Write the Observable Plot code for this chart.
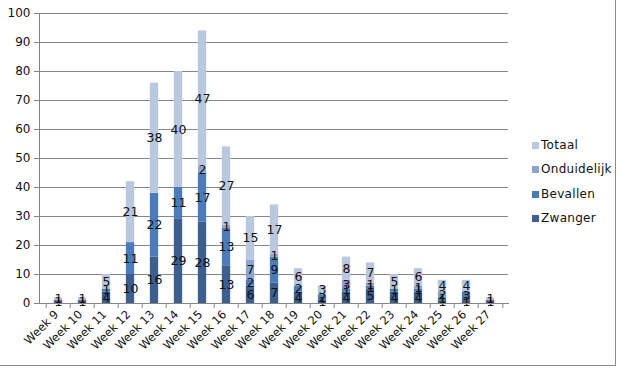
<!DOCTYPE html>
<html>
<head>
<meta charset="utf-8">
<script src="https://cdn.jsdelivr.net/npm/d3@7"></script>
<script src="https://cdn.jsdelivr.net/npm/@observablehq/plot@0.6"></script>
<style>
  html, body { margin: 0; padding: 0; background: #fff; overflow: hidden; }
  #wrap { position: relative; width: 619px; height: 368px; font-family: "DejaVu Sans", Verdana, sans-serif; }
  #frame { position: absolute; left: -5px; top: -5px; width: 621px; height: 371px; box-sizing: border-box; border: 1px solid #8a8a8a; }
  #chart { position: absolute; left: 0; top: 0; }
  #legend { position: absolute; left: 532px; top: 139px; }
  .item { position: relative; height: 24.4px; font-size: 12px; color: #111; line-height: 13px; letter-spacing: 0.3px; }
  .sw { display: inline-block; width: 7px; height: 7px; margin-right: 2px; vertical-align: 0px; }
</style>
</head>
<body>
<div id="wrap"><div id="frame"></div><div id="chart"></div><div id="legend"></div></div>
<script>
const weeks = ["Week 9","Week 10","Week 11","Week 12","Week 13","Week 14","Week 15","Week 16","Week 17","Week 18","Week 19","Week 20","Week 21","Week 22","Week 23","Week 24","Week 25","Week 26","Week 27"];
const series = ["Zwanger","Bevallen","Onduidelijk","Totaal"];
const zwanger     = [1, 1, 4, 10, 16, 29, 28, 13, 6, 7, 4, 1, 4, 5, 4, 4, 1, 1, 1];
const bevallen    = [0, 0, 1, 11, 22, 11, 17, 13, 2, 9, 2, 2, 1, 1, 1, 1, 1, 3, 0];
const onduidelijk = [0, 0, 0, 0, 0, 0, 2, 1, 7, 1, 0, 0, 3, 1, 0, 1, 2, 0, 0];
const totaal      = [1, 1, 5, 21, 38, 40, 47, 27, 15, 17, 6, 3, 8, 7, 5, 6, 4, 4, 1];
const colors = ["#3d5f8f", "#4a7cbb", "#8aa5cf", "#b9c7df"];
const yTicks = [0,10,20,30,40,50,60,70,80,90,100];

const valuesBySeries = [zwanger, bevallen, onduidelijk, totaal];
const rows = [];
series.forEach((s, si) => {
  weeks.forEach((w, wi) => rows.push({week: w, series: s, value: valuesBySeries[si][wi]}));
});

const W = 619, H = 368;
const mL = 39, mR = 111, mT = 13, mB = 65;
const step = (W - mL - mR) / weeks.length;
const grey = "#868686";

const plot = Plot.plot({
  width: W, height: H,
  marginLeft: mL, marginRight: mR, marginTop: mT, marginBottom: mB,
  style: { fontFamily: "DejaVu Sans, Verdana, sans-serif", background: "transparent", overflow: "visible" },
  x: { domain: weeks, padding: 0, label: null },
  y: { domain: [0, 100], label: null },
  color: { domain: series, range: colors },
  marks: [
    Plot.gridY(yTicks, { stroke: grey, strokeOpacity: 1 }),
    Plot.barY(rows, { x: "week", y: "value", fill: "series", z: "series", order: series,
      insetLeft: (step - 9) / 2, insetRight: (step - 9) / 2 }),
    Plot.text(rows.filter(d => d.value > 0), Plot.stackY({ x: "week", y: "value", z: "series", order: series,
      text: d => String(d.value), fill: "#111", fontSize: 12.5 })),
    Plot.frame({ anchor: "left", stroke: grey }),
    Plot.frame({ anchor: "bottom", stroke: grey }),
    Plot.axisY({ ticks: yTicks, tickSize: 5, tickPadding: 4, stroke: grey, fontSize: 12, fill: "#111", label: null }),
    Plot.axisX({ tickSize: 0, tickPadding: 9, tickRotate: -45, fontSize: 11.5, fill: "#111", label: null, dx: -2 }),
    Plot.axisX({ tickSize: 5, text: null, stroke: grey, dx: -step / 2, label: null }),
    Plot.axisX({ ticks: [weeks[weeks.length - 1]], tickSize: 5, text: null, stroke: grey, dx: step / 2, label: null })
  ]
});
document.getElementById("chart").appendChild(plot);

const legend = document.getElementById("legend");
[...series].reverse().forEach(s => {
  const div = document.createElement("div");
  div.className = "item";
  const sw = document.createElement("span");
  sw.className = "sw";
  sw.style.background = colors[series.indexOf(s)];
  div.appendChild(sw);
  div.appendChild(document.createTextNode(s));
  legend.appendChild(div);
});
</script>
</body>
</html>
